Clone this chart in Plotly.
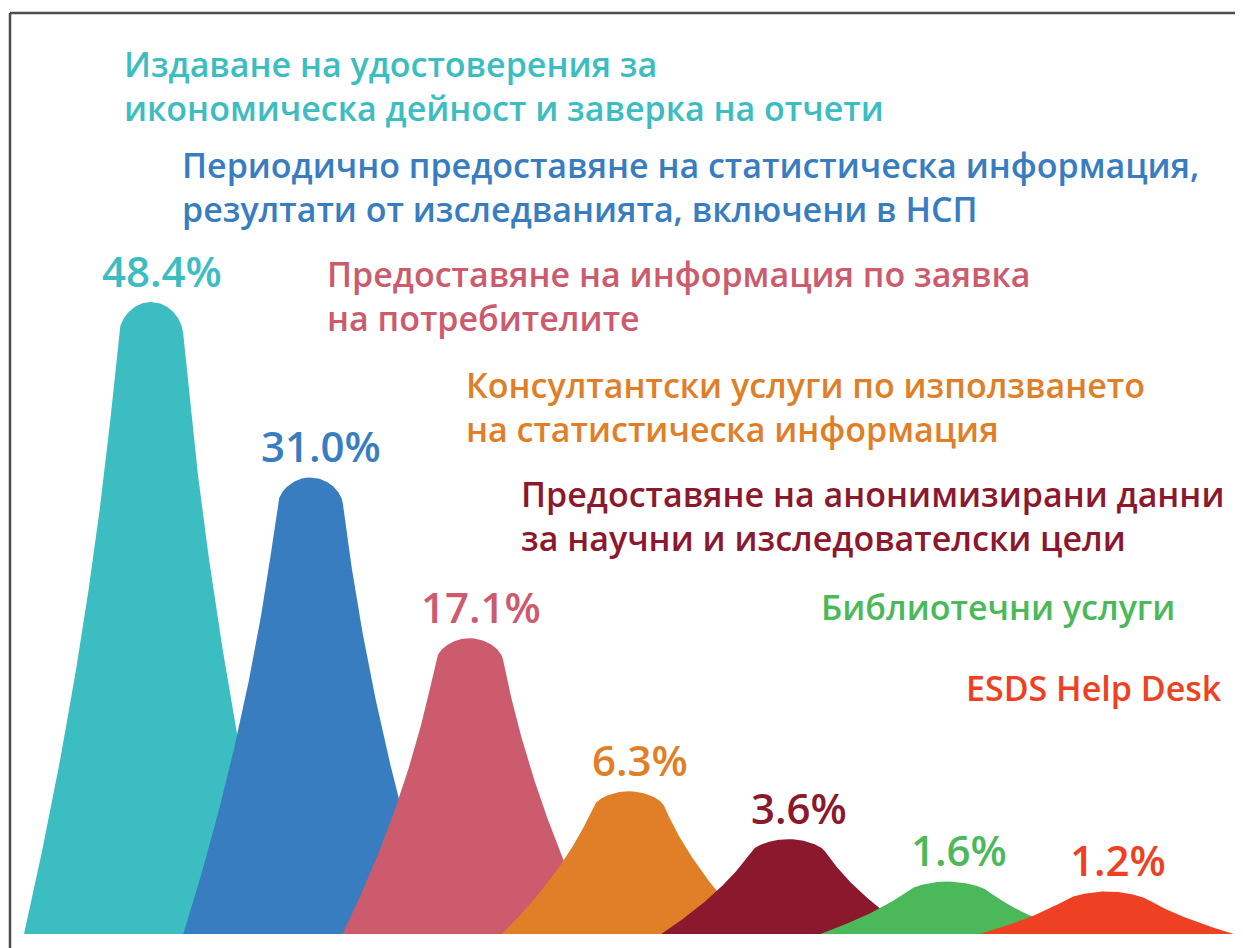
import numpy as np
import plotly.graph_objects as go

# ---- data ----
categories = [
    "Издаване на удостоверения за<br>икономическа дейност и заверка на отчети",
    "Периодично предоставяне на статистическа информация,<br>резултати от изследванията, включени в НСП",
    "Предоставяне на информация по заявка<br>на потребителите",
    "Консултантски услуги по използването<br>на статистическа информация",
    "Предоставяне на анонимизирани данни<br>за научни и изследователски цели",
    "Библиотечни услуги",
    "ESDS Help Desk",
]
values = [48.4, 31.0, 17.1, 6.3, 3.6, 1.6, 1.2]
colors = ["#3BBDC1", "#387DC0", "#CB5B6D", "#E07F27", "#8B182D", "#4BB95A", "#EE4123"]

# ---- layout constants (reference pixel space) ----
W, H = 1243, 948
OFF = 8                      # page body margin
FW, FH = W - OFF, H - OFF    # figure size
BASE_PX = 934                # baseline (px from top)
TOP_PX = 302                 # top of tallest peak
C0_PX, STEP_PX = 151, 159.3
POWER = 0.73                 # display scale for peak heights (infographic style)


def fx(px):
    return (px - OFF) / FW


def fy(py):
    return 1 - (py - OFF) / FH


disp = [v ** POWER for v in values]
HMAX_PX = BASE_PX - TOP_PX
ppu = HMAX_PX / max(disp)

# peak profile: half width (category units) vs normalized depth t (0 top .. 1 base)
R, A, B = 29.5 / STEP_PX, 51.3 / STEP_PX, 46.2 / STEP_PX
CAP_PX = 31.0


def half_width(t, h_px):
    rc = CAP_PX * np.sqrt(h_px / HMAX_PX) / h_px
    rc = min(rc, 0.5)
    side = R + A * t + B * t * t
    c = np.where(t < rc, np.sqrt(np.clip(1 - (1 - t / rc) ** 2, 0, 1)), 1.0)
    return side * c


fig = go.Figure()
for i, (v, d, col) in enumerate(zip(values, disp, colors)):
    h_px = d * ppu
    rc = min(CAP_PX * np.sqrt(h_px / HMAX_PX) / h_px, 0.5)
    ts = np.concatenate([np.linspace(0, rc, 80), np.linspace(rc, 1, 160)[1:]])
    hw = half_width(ts, h_px)
    xs = np.concatenate([i - hw[::-1], i + hw])
    ys = np.concatenate([d * (1 - ts[::-1]), d * (1 - ts)])
    fig.add_trace(go.Scatter(x=xs, y=ys, mode="lines", fill="toself",
                             fillcolor=col, line=dict(width=0, color=col),
                             hoverinfo="skip", showlegend=False))
    fig.add_annotation(x=i, y=d, xref="x", yref="y", text=f"{v:.1f}%",
                       showarrow=False, yanchor="middle", xanchor="center",
                       xshift=11, yshift=32,
                       font=dict(family="Open Sans", size=42, color=col, weight=600))

# category titles: left edge px, vertical centre px of the text block
title_pos = [(125, 86), (183, 187), (328, 296), (467, 407), (522, 516), (822, 607), (967, 688)]
for name, col, (px, py) in zip(categories, colors, title_pos):
    fig.add_annotation(x=fx(px - 3), y=fy(py), xref="paper", yref="paper",
                       text=name, showarrow=False, xanchor="left", yanchor="middle",
                       align="left",
                       font=dict(family="Open Sans", size=34, color=col, weight=600))

# frame lines (left and top)
fig.add_shape(type="line", xref="paper", yref="paper", x0=fx(10), x1=fx(10),
              y0=0, y1=fy(13), line=dict(color="#4d4d4d", width=2.5))
fig.add_shape(type="line", xref="paper", yref="paper", x0=fx(10), x1=1,
              y0=fy(13), y1=fy(13), line=dict(color="#4d4d4d", width=2.5))

xr = [(OFF - C0_PX) / STEP_PX, (W - C0_PX) / STEP_PX]
yr = [-(H - BASE_PX) / ppu, (BASE_PX - OFF) / ppu]
fig.update_xaxes(range=xr, visible=False, fixedrange=True)
fig.update_yaxes(range=yr, visible=False, fixedrange=True)
fig.update_layout(width=FW, height=FH, margin=dict(l=0, r=0, t=0, b=0),
                  plot_bgcolor="white", paper_bgcolor="white", showlegend=False)

fig.write_html("out.html")
